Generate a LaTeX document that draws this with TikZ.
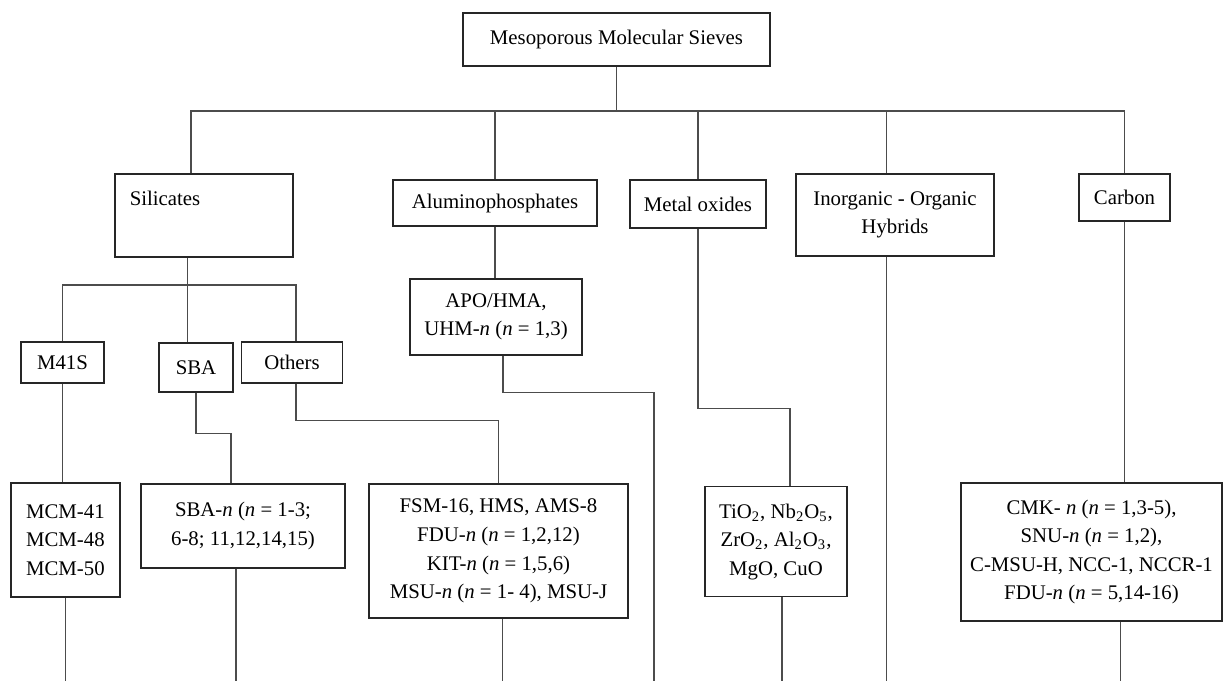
\documentclass[tikz,border=0pt]{standalone}
\usepackage{fontspec}
\setmainfont{Liberation Serif}
\usepackage{tikz}
\usetikzlibrary{calc}
\newcommand{\pxl}{0.5pt}

\begin{document}
\begin{tikzpicture}[x=\pxl,y=-\pxl,
  box/.style={draw=black!85,line width=0.6pt,align=center,inner sep=1pt,font=\fontsize{10.4}{14.3}\selectfont},
  txt/.style={inner sep=1pt,font=\fontsize{10.4}{14.3}\selectfont},
  link/.style={draw=black!70,line width=0.6pt}]
\useasboundingbox (0,0) rectangle (1226,681);
\coordinate (bus) at (0,111);
\coordinate (sbus) at (0,285);
\coordinate (bot) at (0,681);
% top and second level
\node[box,minimum width=307*\pxl,minimum height=53*\pxl] (root) at (616.5,39.5) {Mesoporous Molecular Sieves};
\node[box,minimum width=178*\pxl,minimum height=83*\pxl] (sil) at (204,215.5) {};
\node[txt,anchor=west] (siltxt) at ($(sil.north west)+(13,25)$) {Silicates};
\node[box,minimum width=204*\pxl,minimum height=46*\pxl] (alu) at (495,203) {Aluminophosphates};
\node[box,minimum width=136*\pxl,minimum height=48*\pxl] (met) at (698,204) {Metal oxides};
\node[box,minimum width=198*\pxl,minimum height=82*\pxl] (hyb) at (895,215) {Inorganic - Organic\\Hybrids};
\node[box,minimum width=91*\pxl,minimum height=47*\pxl] (car) at (1124.5,197.5) {Carbon};
% silicate families
\node[box,minimum width=83*\pxl,minimum height=41*\pxl] (m41) at (62.5,362.5) {M41S};
\node[box,minimum width=74*\pxl,minimum height=49*\pxl] (sba) at (196,367.5) {SBA};
\node[box,minimum width=101*\pxl,minimum height=41*\pxl] (oth) at (292,362.5) {Others};
\node[box,minimum width=172*\pxl,minimum height=76*\pxl] (apo) at (496,317) {APO/HMA,\\UHM-\textit{n} (\textit{n} = 1,3)};
% bottom level
\node[box,minimum width=109*\pxl,minimum height=114*\pxl] (mcm) at (65.4,540) {MCM-41\\MCM-48\\MCM-50};
\node[box,minimum width=204*\pxl,minimum height=84*\pxl] (sban) at (243,526) {SBA-\textit{n} (\textit{n} = 1-3;\\6-8; 11,12,14,15)};
\node[box,minimum width=259*\pxl,minimum height=134*\pxl] (fsm) at (498.5,551) {FSM-16, HMS, AMS-8\\FDU-\textit{n} (\textit{n} = 1,2,12)\\KIT-\textit{n} (\textit{n} = 1,5,6)\\MSU-\textit{n} (\textit{n} = 1- 4), MSU-J};
\node[box,minimum width=142*\pxl,minimum height=110*\pxl] (oxi) at (776,541.7) {TiO\textsubscript{2}, Nb\textsubscript{2}O\textsubscript{5},\\ZrO\textsubscript{2}, Al\textsubscript{2}O\textsubscript{3},\\MgO, CuO};
\node[box,minimum width=261*\pxl,minimum height=138*\pxl] (cmk) at (1091.5,552) {CMK- \textit{n} (\textit{n} = 1,3-5),\\SNU-\textit{n} (\textit{n} = 1,2),\\C-MSU-H, NCC-1, NCCR-1\\FDU-\textit{n} (\textit{n} = 5,14-16)};
% main bus
\coordinate (silin) at ($(sil.north west)!0.427!(sil.north east)$);
\coordinate (hybin) at ($(hyb.north west)!0.457!(hyb.north east)$);
\draw[link] (root.south) -- (root.south |- bus);
\draw[link] (silin) -- (silin |- bus) -- (car.north |- bus) -- (car.north);
\foreach \n in {alu,met} \draw[link] (\n.north) -- (\n.north |- bus);
\draw[link] (hybin) -- (hybin |- bus);
% silicates
\coordinate (silout) at ($(sil.south west)!0.41!(sil.south east)$);
\draw[link] (silout) -- (silout |- sba.north);
\draw[link] (m41.north) -- (m41.north |- sbus) -- ($(oth.north |- sbus)+(4,0)$) -- ($(oth.north)+(4,0)$);
\draw[link] (m41.south) -- (m41.south |- mcm.north);
\draw[link] (sba.south) -- ++(0,41) -| ($(sban.north)+(-12,0)$);
\draw[link] ($(oth.south)+(4,0)$) -- ++(0,37) -| (fsm.north);
% the other branches
\coordinate (apoend) at (654,681);
\draw[link] (alu.south) -- (alu.south |- apo.north);
\draw[link] ($(apo.south)+(7,0)$) -- ++(0,37) -| (apoend);
\draw[link] (met.south) -- ++(0,180) -| ($(oxi.north)+(14,0)$);
\draw[link] (hybin |- hyb.south) -- (hybin |- bot);
\draw[link] (car.south) -- (car.south |- cmk.north);
% down to the edge
\foreach \n/\dx in {mcm/0,sban/-7,fsm/4,oxi/6,cmk/29}
  \draw[link] ($(\n.south)+(\dx,0)$) -- ($(\n.south |- bot)+(\dx,0)$);
\end{tikzpicture}
\end{document}
